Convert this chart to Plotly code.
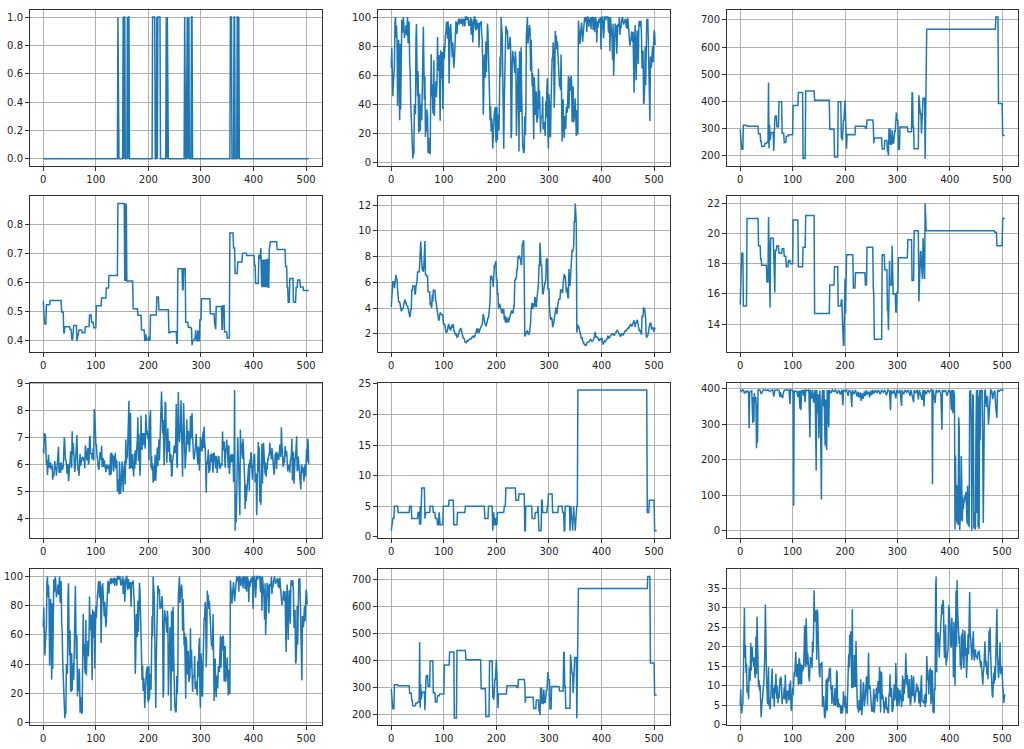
import plotly.graph_objects as go
from plotly.subplots import make_subplots

N = 506

# CHAS : indices où la valeur vaut 1
CHAS_ONES = [142, 152, 154, 155, 160, 162, 163, 208, 209, 210, 211, 212, 216, 218,
             219, 220, 221, 222, 234, 236, 269, 273, 274, 276, 277, 282, 283, 356,
             357, 358, 363, 364, 369, 370, 372]

AGE = [65.2, 78.9, 61.1, 45.8, 54.2, 58.7, 66.6, 96.1, 100.0, 85.9, 94.3, 82.9, 39.0, 61.8,
       84.5, 56.5, 29.3, 81.7, 36.6, 69.5, 98.1, 89.2, 91.7, 100.0, 94.1, 85.7, 90.3, 88.8,
       94.4, 87.3, 94.1, 100.0, 82.0, 95.0, 96.9, 68.2, 61.4, 41.5, 30.2, 21.8, 15.8, 2.9,
       6.6, 6.5, 40.0, 33.8, 33.3, 85.5, 95.3, 62.0, 45.7, 63.0, 21.1, 21.4, 47.6, 21.9,
       35.7, 40.5, 29.2, 47.2, 66.2, 93.4, 67.8, 43.4, 59.5, 17.8, 31.1, 21.4, 36.8, 33.0,
       6.6, 17.5, 7.8, 6.2, 6.0, 45.0, 74.5, 45.8, 53.7, 36.6, 33.5, 70.4, 32.2, 46.7, 48.0,
       56.1, 45.1, 56.8, 86.3, 63.1, 66.1, 73.9, 53.6, 28.9, 77.3, 57.8, 69.6, 76.0, 36.9,
       62.5, 79.9, 71.3, 85.4, 87.4, 90.0, 96.7, 91.9, 85.2, 97.1, 91.2, 54.4, 81.6, 92.9,
       95.4, 84.2, 88.2, 72.5, 82.6, 73.1, 65.2, 69.7, 84.1, 92.9, 97.0, 95.8, 88.4, 95.6,
       96.0, 98.8, 94.7, 98.9, 97.7, 97.9, 95.4, 98.4, 98.2, 93.5, 98.4, 98.2, 97.9, 93.6,
       100.0, 100.0, 100.0, 97.8, 100.0, 100.0, 95.7, 93.8, 94.9, 97.3, 100.0, 88.0, 98.5,
       96.0, 82.6, 94.0, 97.4, 100.0, 100.0, 92.6, 90.8, 98.2, 93.9, 91.8, 93.0, 96.2, 79.2,
       96.1, 95.2, 94.6, 97.3, 88.5, 84.1, 68.7, 33.1, 47.2, 73.4, 74.4, 58.4, 83.3, 62.2,
       92.2, 95.6, 89.8, 68.8, 53.6, 41.1, 29.1, 38.9, 21.5, 30.8, 26.3, 9.9, 18.8, 32.0,
       34.1, 36.6, 38.3, 15.3, 13.9, 38.4, 15.7, 33.2, 31.9, 22.3, 52.5, 72.7, 59.1, 100.0,
       92.1, 88.6, 53.8, 32.3, 9.8, 42.4, 56.0, 85.1, 93.8, 92.4, 88.5, 91.3, 77.7, 80.8,
       78.3, 83.0, 86.5, 79.9, 17.0, 21.4, 68.1, 76.9, 73.3, 70.4, 66.5, 61.5, 76.5, 71.6,
       18.5, 42.2, 54.3, 65.1, 52.9, 7.8, 76.5, 70.2, 34.9, 79.2, 49.1, 17.5, 13.0, 8.9, 6.8,
       8.4, 32.0, 19.1, 34.2, 86.9, 100.0, 100.0, 81.8, 89.4, 91.5, 94.5, 91.6, 62.8, 84.6,
       67.0, 52.6, 61.5, 42.1, 16.3, 58.7, 51.8, 32.9, 42.8, 49.0, 27.6, 32.1, 32.2, 64.5,
       37.2, 49.7, 24.8, 20.8, 31.9, 31.5, 31.3, 45.6, 22.9, 27.9, 27.7, 23.4, 18.4, 42.3,
       31.1, 51.0, 58.0, 20.1, 10.0, 47.4, 40.4, 18.4, 17.7, 41.1, 58.1, 71.9, 70.3, 82.5,
       76.7, 37.8, 52.8, 90.4, 82.8, 87.3, 77.7, 83.2, 71.7, 67.2, 58.8, 52.3, 54.3, 49.9,
       74.3, 40.1, 14.7, 28.9, 43.7, 25.8, 17.2, 32.2, 28.4, 23.3, 38.1, 38.5, 34.5, 46.3,
       59.6, 37.3, 45.4, 58.5, 49.3, 59.7, 56.4, 28.1, 48.5, 52.3, 27.7, 29.7, 34.5, 44.4,
       35.9, 18.5, 36.1, 21.9, 19.5, 97.4, 91.0, 83.4, 81.3, 88.0, 91.1, 96.2, 89.0, 82.9,
       87.9, 91.4, 100.0, 100.0, 96.8, 97.5, 100.0, 89.6, 100.0, 100.0, 97.9, 93.3, 98.8,
       96.2, 100.0, 91.9, 99.1, 100.0, 100.0, 91.2, 98.1, 100.0, 89.5, 100.0, 98.9, 97.0,
       82.5, 97.0, 92.6, 94.7, 98.8, 96.0, 98.9, 100.0, 77.8, 100.0, 100.0, 100.0, 96.0,
       85.4, 100.0, 100.0, 100.0, 97.9, 100.0, 100.0, 100.0, 100.0, 90.8, 89.1, 100.0, 76.5,
       100.0, 95.3, 87.6, 85.1, 70.6, 95.4, 59.7, 78.7, 78.1, 95.6, 86.1, 94.3, 74.8, 87.9,
       95.0, 94.6, 93.3, 100.0, 87.9, 93.9, 92.4, 97.2, 100.0, 100.0, 96.6, 94.8, 96.4, 96.6,
       98.7, 98.3, 92.6, 98.2, 91.8, 99.3, 94.1, 86.5, 87.9, 80.3, 83.7, 84.4, 90.0, 88.4,
       83.0, 89.9, 65.4, 48.2, 84.7, 94.5, 71.0, 56.7, 84.0, 90.7, 75.0, 67.6, 95.4, 97.4,
       93.6, 97.3, 96.7, 88.0, 64.7, 74.9, 77.0, 40.3, 41.9, 51.9, 79.8, 53.2, 92.7, 98.3,
       98.0, 98.8, 83.5, 54.0, 42.6, 28.8, 72.9, 70.6, 65.3, 73.5, 79.7, 69.1, 76.7, 91.0,
       89.3, 80.8]

# TAX / NOX / PTRATIO / RAD : paliers (indice de début, valeur)
TAX_START = [0, 1, 3, 6, 13, 35, 39, 41, 47, 51, 54, 55, 56, 57, 58, 64, 65, 67, 70, 74,
             80, 84, 88, 92, 101, 111, 120, 125, 142, 171, 180, 187, 193, 195, 196, 199,
             201, 202, 204, 216, 220, 239, 242, 254, 255, 256, 271, 276, 281, 283, 284,
             285, 286, 287, 290, 291, 294, 297, 299, 302, 305, 320, 328, 330, 332, 341,
             342, 344, 346, 347, 349, 353, 354, 355, 488, 493, 501]
TAX_VAL = [296, 242, 222, 311, 307, 279, 252, 233, 243, 247, 469, 226, 313, 256, 284, 216,
           337, 345, 305, 398, 281, 247, 270, 276, 384, 432, 188, 437, 403, 296, 193, 398,
           265, 255, 329, 402, 348, 224, 277, 276, 307, 300, 330, 315, 244, 264, 223, 254,
           216, 198, 300, 241, 300, 241, 293, 245, 289, 358, 329, 222, 304, 287, 430, 304,
           224, 422, 370, 352, 280, 335, 411, 187, 334, 666, 711, 391, 273]

NOX_START = [0, 1, 3, 6, 13, 35, 39, 41, 51, 54, 55, 56, 57, 64, 65, 67, 74, 80, 84, 88,
             92, 96, 101, 111, 120, 125, 142, 155, 156, 157, 158, 159, 171, 180, 187, 193,
             195, 196, 199, 201, 202, 204, 216, 220, 239, 242, 254, 256, 265, 267, 271,
             276, 281, 283, 284, 285, 287, 290, 291, 294, 296, 298, 301, 318, 326, 327,
             329, 340, 342, 345, 350, 355, 362, 365, 370, 379, 387, 402, 404, 410, 412,
             413, 415, 416, 417, 418, 420, 421, 423, 424, 426, 428, 430, 431, 445, 461,
             464, 466, 469, 476, 481, 484, 489, 495]
NOX_VAL = [0.538, 0.469, 0.458, 0.524, 0.538, 0.499, 0.428, 0.448, 0.439, 0.410, 0.403,
           0.411, 0.453, 0.400, 0.413, 0.437, 0.428, 0.448, 0.449, 0.489, 0.464, 0.445,
           0.520, 0.547, 0.581, 0.624, 0.871, 0.605, 0.871, 0.605, 0.871, 0.605, 0.510,
           0.488, 0.437, 0.401, 0.422, 0.404, 0.403, 0.415, 0.400, 0.489, 0.550, 0.507,
           0.428, 0.431, 0.392, 0.647, 0.575, 0.647, 0.464, 0.447, 0.443, 0.385, 0.401,
           0.400, 0.410, 0.437, 0.400, 0.433, 0.400, 0.472, 0.544, 0.493, 0.460, 0.440,
           0.518, 0.440, 0.520, 0.430, 0.410, 0.770, 0.718, 0.631, 0.670, 0.700, 0.693,
           0.659, 0.597, 0.693, 0.679, 0.718, 0.614, 0.584, 0.679, 0.584, 0.679, 0.584,
           0.679, 0.584, 0.679, 0.584, 0.713, 0.740, 0.713, 0.655, 0.584, 0.532, 0.614,
           0.532, 0.583, 0.609, 0.585, 0.573]

PTRATIO_START = [0, 1, 3, 6, 13, 35, 39, 41, 51, 54, 55, 56, 57, 58, 64, 65, 67, 70, 74,
                 80, 84, 88, 92, 96, 101, 111, 120, 125, 142, 171, 180, 187, 193, 195, 196,
                 199, 201, 202, 216, 220, 239, 242, 254, 255, 256, 271, 276, 281, 283, 284,
                 285, 286, 290, 291, 297, 299, 302, 320, 328, 332, 341, 342, 344, 346, 347,
                 349, 350, 351, 353, 354, 486, 490, 501]
PTRATIO_VAL = [15.3, 17.8, 18.7, 15.2, 21.0, 19.2, 18.3, 17.9, 16.8, 21.1, 17.9, 17.3, 15.1,
               19.7, 18.6, 16.1, 18.9, 19.2, 18.7, 19.0, 18.5, 17.8, 18.2, 18.0, 20.9, 17.8,
               19.1, 21.2, 14.7, 16.6, 17.8, 15.2, 15.6, 14.4, 12.6, 17.0, 14.7, 18.6, 16.4,
               17.4, 16.6, 19.1, 16.4, 15.9, 13.0, 18.6, 17.6, 14.9, 13.6, 15.3, 18.2, 16.6,
               19.2, 16.0, 14.8, 16.1, 18.4, 19.6, 16.9, 20.2, 15.5, 17.6, 18.8, 17.9, 17.0,
               19.7, 18.3, 17.0, 22.0, 20.2, 20.1, 19.2, 21.0]

RAD_START = [0, 1, 3, 6, 13, 35, 39, 51, 54, 55, 56, 57, 64, 65, 74, 80, 84, 88, 91, 92,
             99, 110, 119, 126, 141, 178, 185, 193, 194, 196, 198, 200, 202, 204, 215, 218,
             237, 243, 254, 256, 268, 274, 279, 280, 286, 288, 297, 299, 307, 318, 326,
             329, 331, 340, 341, 343, 345, 346, 348, 350, 351, 353, 355, 487, 491, 501]
RAD_VAL = [1, 2, 3, 5, 4, 5, 3, 4, 2, 5, 2, 8, 3, 4, 5, 4, 3, 2, 4, 2, 5, 6, 2, 4, 5, 3, 5,
           1, 4, 2, 3, 2, 4, 4, 5, 8, 6, 7, 1, 5, 3, 4, 5, 1, 6, 4, 5, 7, 4, 5, 4, 1, 5, 1,
           5, 3, 1, 5, 3, 1, 4, 5, 24, 4, 6, 1]

DIS = [4.09, 4.9671, 4.9671, 6.0622, 6.0622, 6.0622, 5.5605, 5.9505, 6.0821, 6.5921,
       6.3467, 6.2267, 5.4509, 4.7075, 4.4619, 4.4986, 4.4986, 4.2579, 3.7965, 3.7965,
       3.7979, 4.0123, 3.9769, 4.0952, 4.3996, 4.4546, 4.682, 4.4534, 4.4547, 4.239,
       4.233, 4.175, 3.99, 3.7872, 3.7598, 3.3603, 3.3779, 3.9342, 3.8473, 5.4011,
       5.4011, 5.7209, 5.7209, 5.7209, 5.7209, 5.1004, 5.1004, 5.6894, 5.87, 6.0877,
       6.8147, 6.8147, 6.8147, 6.8147, 7.3197, 8.6966, 9.1876, 8.3248, 7.8148, 6.932,
       7.2254, 6.8185, 7.2255, 7.9809, 9.2229, 6.6115, 6.6115, 6.498, 6.498, 6.498,
       5.2873, 5.2873, 5.2873, 5.2873, 4.2515, 4.5026, 4.0522, 4.0905, 5.0141, 4.5026,
       5.4007, 5.4007, 5.4007, 5.4007, 4.7794, 4.4377, 4.4272, 3.7476, 3.4217, 3.4145,
       3.0923, 3.0921, 3.6659, 3.6659, 3.615, 3.4952, 3.4952, 3.4952, 3.4952, 2.7778,
       2.8561, 2.7147, 2.7147, 2.421, 2.1069, 2.211, 2.1224, 2.4329, 2.5451, 2.7778,
       2.6775, 2.3534, 2.548, 2.2565, 2.4631, 2.7301, 2.7474, 2.4775, 2.7592, 2.2577,
       2.1974, 2.0869, 1.9444, 2.0063, 1.9929, 1.7572, 1.7883, 1.8125, 1.9799, 2.1185,
       2.271, 2.3274, 2.4699, 2.346, 2.1107, 1.9669, 1.8498, 1.6686, 1.6687, 1.6119,
       1.4394, 1.3216, 1.4118, 1.3459, 1.4191, 1.5166, 1.4608, 1.5296, 1.5257, 1.618,
       1.5916, 1.6102, 1.6232, 1.7494, 1.7455, 1.7364, 1.8773, 1.7573, 1.7659, 1.7984,
       1.9709, 2.0407, 2.162, 2.422, 2.2834, 2.0459, 2.4259, 2.1, 2.2625, 2.4259,
       2.388, 2.5961, 2.6463, 2.7019, 3.1323, 3.5549, 3.3175, 2.9153, 2.829, 2.741,
       2.5979, 2.7006, 2.847, 2.9879, 3.2797, 3.1992, 3.7886, 4.5667, 4.5667, 6.4798,
       6.4798, 6.4798, 6.2196, 6.2196, 5.6484, 7.309, 7.309, 7.309, 7.6534, 7.6534,
       6.27, 6.27, 5.118, 5.118, 3.9454, 4.3549, 4.3549, 4.2392, 3.875, 3.8771,
       3.665, 3.6526, 3.9454, 3.5875, 3.9454, 3.1121, 3.4211, 2.8893, 3.3633, 2.8617,
       3.048, 3.2721, 3.2721, 2.8944, 3.2157, 3.2157, 3.3751, 3.6715, 3.6715, 3.8384,
       3.6519, 3.6519, 3.6519, 4.148, 4.148, 6.1899, 6.1899, 6.3361, 6.3361, 7.0355,
       7.0355, 7.9549, 7.9549, 8.0555, 8.0555, 7.8265, 7.8265, 7.3967, 7.3967, 8.9067,
       8.9067, 9.2229, 9.2229, 6.3361, 1.801, 1.8946, 2.0107, 2.1121, 2.1398, 2.2885,
       2.0788, 1.9301, 1.9865, 2.1329, 2.4216, 2.872, 3.9175, 4.429, 4.429, 3.9175,
       4.3665, 4.0776, 4.2673, 4.7872, 4.8628, 4.1403, 4.1007, 4.6947, 5.2447, 5.2119,
       5.885, 7.3073, 7.3073, 9.0892, 7.3172, 7.3172, 7.3172, 5.1167, 5.1167, 5.1167,
       5.5027, 5.5027, 5.9604, 5.9604, 6.32, 7.8278, 7.8278, 7.8278, 5.4917, 5.4917,
       5.4917, 4.022, 3.37, 3.0992, 3.1827, 3.3175, 3.1025, 2.5194, 2.6403, 2.834,
       3.2628, 3.6023, 3.945, 3.9986, 4.0317, 3.5325, 4.0019, 4.5404, 4.5404, 4.7211,
       4.7211, 4.7211, 5.4159, 5.4159, 5.4159, 5.2146, 5.2146, 5.8736, 6.6407, 6.6407,
       6.4584, 6.4584, 5.9853, 5.2311, 5.615, 4.8122, 4.8122, 4.8122, 7.0379, 6.2669,
       5.7321, 6.4654, 8.0136, 8.0136, 8.5353, 8.344, 8.7921, 8.7921, 10.7103, 10.7103,
       12.1265, 10.5857, 10.5857, 2.1222, 2.5052, 2.7227, 2.5091, 2.5182, 2.2955, 2.1036,
       1.9047, 1.9047, 1.6132, 1.7523, 1.5106, 1.3325, 1.3567, 1.2024, 1.1691, 1.1296,
       1.1742, 1.137, 1.3163, 1.3449, 1.358, 1.3861, 1.3861, 1.4165, 1.5192, 1.5804,
       1.5331, 1.4395, 1.4261, 1.4672, 1.5184, 1.5895, 1.7281, 1.9265, 2.1678, 1.77,
       1.7912, 1.7821, 1.7257, 1.6768, 1.6334, 1.4896, 1.5004, 1.5888, 1.5741, 1.639,
       1.7028, 1.6074, 1.4254, 1.1781, 1.2852, 1.4547, 1.4655, 1.413, 1.5275, 1.5539,
       1.5894, 1.6582, 1.8347, 1.8195, 1.6475, 1.8026, 1.794, 1.8589, 1.8746, 1.9512,
       2.0218, 2.0635, 1.9096, 1.9976, 1.8629, 1.9356, 1.9682, 2.0527, 2.0882, 2.2004,
       2.3158, 2.2222, 2.1247, 2.0026, 1.9142, 1.8206, 1.8172, 1.8662, 2.0651, 2.0048,
       1.9784, 1.8956, 1.9879, 2.072, 2.198, 2.2616, 2.185, 2.3236, 2.3552, 2.3682,
       2.4527, 2.4961, 2.4358, 2.5806, 2.7792, 2.7831, 2.7175, 2.5975, 2.5671, 2.7344,
       2.8016, 2.9634, 3.0665, 2.8715, 2.5403, 2.9084, 2.8237, 3.0334, 3.0993, 2.8965,
       2.5329, 2.4298, 2.206, 2.3053, 2.1007, 2.1705, 1.9512, 3.4242, 3.3317, 3.4106,
       4.0983, 3.724, 3.9917, 3.5459, 3.1523, 1.8209, 1.7554, 1.8226, 1.8681, 2.1099,
       2.3817, 2.3817, 2.7986, 2.7986, 2.8927, 2.4091, 2.3999, 2.4982, 2.4786, 2.2875,
       2.1675, 2.3889, 2.505]

RM = [6.575, 6.421, 7.185, 6.998, 7.147, 6.43, 6.012, 6.172, 5.631, 6.004,
      6.377, 6.009, 5.889, 5.949, 6.096, 5.834, 5.935, 5.99, 5.456, 5.727,
      5.57, 5.965, 6.142, 5.813, 5.924, 5.599, 5.813, 6.047, 6.495, 6.674,
      5.713, 6.072, 5.95, 5.701, 6.096, 5.933, 5.841, 5.85, 5.966, 6.595,
      7.024, 6.77, 6.169, 6.211, 6.069, 5.682, 5.786, 6.03, 5.399, 5.602,
      5.963, 6.115, 6.511, 5.998, 5.888, 7.249, 6.383, 6.816, 6.145, 5.927,
      5.741, 5.966, 6.456, 6.762, 7.104, 6.29, 5.787, 5.878, 5.594, 5.885,
      6.417, 5.961, 6.065, 6.245, 6.273, 6.286, 6.279, 6.14, 6.232, 5.874,
      6.727, 6.619, 6.302, 6.167, 6.389, 6.63, 6.015, 6.121, 7.007, 7.079,
      6.417, 6.405, 6.442, 6.211, 6.249, 6.625, 6.163, 8.069, 7.82, 7.416,
      6.727, 6.781, 6.405, 6.137, 6.167, 5.851, 5.836, 6.127, 6.474, 6.229,
      6.195, 6.715, 5.913, 6.092, 6.254, 5.928, 6.176, 6.021, 5.872, 5.731,
      5.87, 6.004, 5.961, 5.856, 5.879, 5.986, 5.613, 5.693, 6.431, 5.637,
      6.458, 6.326, 6.372, 5.822, 5.757, 6.335, 5.942, 6.454, 5.857, 6.151,
      6.174, 5.019, 5.403, 5.468, 4.903, 6.13, 5.628, 4.926, 5.186, 5.597,
      6.122, 5.404, 5.012, 5.709, 6.129, 6.152, 5.272, 6.943, 6.066, 6.51,
      6.25, 7.489, 7.802, 8.375, 5.854, 6.101, 7.929, 5.877, 6.319, 6.402,
      5.875, 5.88, 5.572, 6.416, 5.859, 6.546, 6.02, 6.315, 6.86, 6.98,
      7.765, 6.144, 7.155, 6.563, 5.604, 6.153, 7.831, 6.782, 6.556, 7.185,
      6.951, 6.739, 7.178, 6.8, 6.604, 7.875, 7.287, 7.107, 7.274, 6.975,
      7.135, 6.162, 7.61, 7.853, 8.034, 5.891, 6.326, 5.783, 6.064, 5.344,
      5.96, 5.404, 5.807, 6.375, 5.412, 6.182, 5.888, 6.642, 5.951, 6.373,
      6.951, 6.164, 6.879, 6.618, 8.266, 8.725, 8.04, 7.163, 7.686, 6.552,
      5.981, 7.412, 8.337, 8.247, 6.726, 6.086, 6.631, 7.358, 6.481, 6.606,
      6.897, 6.095, 6.358, 6.393, 5.593, 5.605, 6.108, 6.226, 6.433, 6.718,
      6.487, 6.438, 6.957, 8.259, 6.108, 5.876, 7.454, 8.704, 7.333, 6.842,
      7.203, 7.52, 8.398, 7.327, 7.206, 5.56, 7.014, 8.297, 7.47, 5.92,
      5.856, 6.24, 6.538, 7.691, 6.758, 6.854, 7.267, 6.826, 6.482, 6.812,
      7.82, 6.968, 7.645, 7.923, 7.088, 6.453, 6.23, 6.209, 6.315, 6.565,
      6.861, 7.148, 6.63, 6.127, 6.009, 6.678, 6.549, 5.79, 6.345, 7.041,
      6.871, 6.59, 6.495, 6.982, 7.236, 6.616, 7.42, 6.849, 6.635, 5.972,
      4.973, 6.122, 6.023, 6.266, 6.567, 5.705, 5.914, 5.782, 6.382, 6.113,
      6.426, 6.376, 6.041, 5.708, 6.415, 6.431, 6.312, 6.083, 5.868, 6.333,
      6.144, 5.706, 6.031, 6.316, 6.31, 6.037, 5.869, 5.895, 6.059, 5.985,
      5.968, 7.241, 6.54, 6.696, 6.874, 6.014, 5.898, 6.516, 6.635, 6.939,
      6.49, 6.579, 5.884, 6.728, 5.663, 5.936, 6.212, 6.395, 6.127, 6.112,
      6.398, 6.251, 5.362, 5.803, 8.78, 3.561, 4.963, 3.863, 4.97, 6.683,
      7.016, 6.216, 5.875, 4.906, 4.138, 7.313, 6.649, 6.794, 6.38, 6.223,
      6.968, 6.545, 5.536, 5.52, 4.368, 5.277, 4.652, 5.0, 4.88, 5.39,
      5.713, 6.051, 5.036, 6.193, 5.887, 6.471, 6.405, 5.747, 5.453, 5.852,
      5.987, 6.343, 6.404, 5.349, 5.531, 5.683, 4.138, 5.608, 5.617, 6.852,
      5.757, 6.657, 4.628, 5.155, 4.519, 6.434, 6.782, 5.304, 5.957, 6.824,
      6.411, 6.006, 5.648, 6.103, 5.565, 5.896, 5.837, 6.202, 6.193, 6.38,
      6.348, 6.833, 6.425, 6.436, 6.208, 6.629, 6.461, 6.152, 5.935, 5.627,
      5.818, 6.406, 6.219, 6.485, 5.854, 6.459, 6.341, 6.251, 6.185, 6.417,
      6.749, 6.655, 6.297, 7.393, 6.728, 6.525, 5.976, 5.936, 6.301, 6.081,
      6.701, 6.376, 6.317, 6.513, 6.209, 5.759, 5.952, 6.003, 5.926, 5.713,
      6.167, 6.229, 6.437, 6.98, 5.427, 6.162, 6.484, 5.304, 6.185, 6.229,
      6.242, 6.75, 7.061, 5.762, 5.871, 6.312, 6.114, 5.905, 5.454, 5.414,
      5.093, 5.983, 5.983, 5.707, 5.926, 5.67, 5.39, 5.794, 6.019, 5.569,
      6.027, 6.593, 6.12, 6.976, 6.794, 6.03]

# B : points relevés (indice, valeur)
B_X = [0, 2, 4, 6, 8, 10, 12, 14, 16, 17, 18, 20, 22, 24, 25, 26, 27, 29, 30, 31, 32, 33,
       34, 36, 38, 40, 42, 44, 47, 50, 53, 56, 59, 62, 64, 66, 68, 71, 74, 75, 76, 77, 78,
       80, 81, 82, 84, 87, 90, 93, 95, 96, 99, 100, 101, 102, 103, 105, 108, 110, 112,
       114, 115, 116, 117, 119, 121, 122, 124, 125, 128, 131, 133, 134, 136, 138, 140,
       141, 143, 145, 146, 148, 149, 150, 151, 152, 153, 155, 156, 157, 159, 160, 162,
       163, 165, 166, 167, 168, 169, 170, 173, 176, 179, 182, 185, 188, 191, 194, 196,
       197, 200, 203, 206, 208, 211, 213, 214, 217, 220, 223, 225, 227, 229, 231, 233,
       235, 237, 239, 241, 243, 245, 247, 249, 251, 253, 255, 258, 261, 264, 267, 270,
       273, 276, 279, 282, 285, 287, 288, 291, 294, 297, 299, 302, 305, 308, 309, 312,
       315, 318, 321, 324, 326, 329, 331, 332, 335, 338, 340, 342, 345, 347, 349, 351,
       352, 355, 358, 361, 364, 366, 367, 368, 370, 372, 374, 377, 380, 383, 385, 386,
       389, 392, 395, 398, 401, 403, 404, 406, 407, 409, 410, 411, 412, 413, 414, 415,
       416, 417, 418, 419, 420, 421, 422, 423, 424, 425, 426, 427, 428, 429, 430, 431,
       432, 433, 434, 435, 436, 437, 438, 439, 440, 441, 442, 443, 444, 445, 446, 447,
       448, 449, 450, 451, 452, 453, 454, 455, 456, 457, 458, 459, 460, 462, 464, 466,
       467, 468, 470, 472, 474, 476, 478, 480, 482, 484, 486, 488, 490, 491, 492, 494,
       497, 500, 503, 505]
B_Y = [396.9, 392.8, 396.9, 395.6, 386.6, 392.5, 390.5, 395.6, 386.8, 289.0, 390.9, 392.5,
       394.5, 303.4, 376.9, 306.4, 387.9, 360.2, 376.7, 232.6, 358.8, 248.3, 396.9, 396.9,
       395.6, 385.4, 394.5, 396.9, 396.9, 395.6, 396.9, 392.9, 395.6, 396.9, 378.1, 395.6,
       396.9, 396.9, 396.9, 383.7, 376.9, 390.9, 377.2, 383.2, 373.7, 387.0, 396.0, 396.9,
       396.9, 396.9, 357.0, 396.9, 396.9, 395.2, 390.9, 70.8, 394.0, 392.8, 393.7, 377.7,
       394.7, 344.0, 395.2, 340.0, 393.5, 396.9, 380.0, 396.9, 362.0, 396.9, 395.0, 396.9,
       262.8, 396.9, 372.0, 396.9, 360.0, 380.0, 396.9, 170.0, 396.9, 330.0, 385.0, 261.0,
       372.0, 395.0, 350.0, 88.0, 364.0, 396.9, 350.0, 396.9, 240.0, 370.0, 228.0, 396.9,
       300.0, 396.9, 292.0, 396.9, 388.0, 396.9, 392.0, 396.9, 386.0, 396.9, 384.0, 396.9,
       354.0, 396.9, 393.0, 396.9, 380.0, 396.9, 390.0, 349.0, 396.9, 385.0, 396.9, 378.0,
       392.0, 375.0, 390.0, 366.0, 388.0, 372.0, 393.0, 380.0, 396.0, 384.0, 392.0, 376.0,
       395.0, 382.0, 396.9, 386.0, 396.9, 388.0, 396.9, 385.0, 396.9, 390.0, 396.9, 382.0,
       396.9, 393.0, 340.0, 396.9, 386.0, 396.9, 373.0, 396.9, 388.0, 396.9, 352.0, 396.9,
       385.0, 396.9, 390.0, 396.9, 380.0, 396.9, 375.0, 362.0, 396.9, 388.0, 396.9, 370.0,
       396.9, 380.0, 368.0, 396.9, 350.0, 396.9, 385.0, 396.9, 390.0, 396.9, 396.9, 131.0,
       396.9, 380.0, 360.0, 396.9, 390.0, 396.9, 386.0, 285.0, 396.9, 392.0, 396.9, 380.0,
       396.9, 392.0, 340.0, 396.9, 331.0, 396.9, 380.0, 3.5, 212.0, 27.0, 130.0, 21.0,
       127.0, 16.0, 320.0, 290.0, 2.6, 35.0, 29.0, 211.0, 88.0, 27.0, 97.0, 61.0, 83.0,
       81.0, 98.0, 100.0, 110.0, 27.0, 21.0, 127.0, 16.0, 110.0, 10.0, 394.7, 341.6, 396.9,
       304.0, 0.3, 355.0, 385.0, 375.0, 6.7, 51.0, 10.5, 3.5, 272.0, 396.9, 50.0, 396.9,
       10.0, 380.0, 5.0, 396.9, 255.0, 396.9, 393.0, 396.9, 22.0, 331.0, 396.9, 396.0,
       349.0, 380.0, 300.0, 350.0, 396.9, 395.0, 371.0, 389.0, 395.0, 344.0, 318.0, 390.0,
       396.9, 393.0, 396.9, 396.9, 396.9]

LSTAT = [4.98, 9.14, 4.03, 2.94, 5.33, 5.21, 12.43, 19.15, 29.93, 17.1,
         20.45, 13.27, 15.71, 8.26, 10.26, 8.47, 6.58, 14.67, 11.69, 11.28,
         21.02, 13.83, 18.72, 19.88, 16.3, 16.51, 14.81, 17.28, 12.8, 11.98,
         22.6, 13.04, 27.71, 18.35, 20.34, 9.68, 11.41, 8.77, 10.13, 4.32,
         1.98, 4.84, 5.81, 7.44, 9.55, 10.21, 14.15, 18.8, 30.81, 16.2,
         13.45, 9.43, 5.28, 8.43, 14.8, 4.81, 5.77, 3.95, 6.86, 9.22,
         13.15, 14.44, 6.73, 9.5, 8.05, 4.67, 10.24, 8.1, 13.09, 8.79,
         6.72, 9.88, 5.52, 7.54, 6.78, 8.94, 11.97, 10.27, 12.34, 9.1,
         5.29, 7.22, 6.72, 7.51, 9.62, 6.53, 12.86, 8.44, 5.5, 5.7,
         8.81, 8.2, 8.16, 6.21, 10.59, 6.65, 11.34, 4.21, 3.57, 6.19,
         9.42, 7.67, 10.63, 13.44, 12.33, 16.47, 18.66, 14.09, 12.27, 15.55,
         13.0, 10.16, 16.21, 17.09, 10.45, 15.76, 12.04, 10.3, 15.37, 13.61,
         14.37, 14.27, 17.93, 25.41, 17.58, 14.81, 27.26, 17.19, 15.39, 18.34,
         12.6, 12.26, 11.12, 15.03, 17.31, 16.96, 16.9, 14.59, 21.32, 18.46,
         24.16, 34.41, 26.82, 26.42, 29.29, 27.8, 16.65, 29.53, 28.32, 21.45,
         14.1, 13.28, 12.12, 15.79, 15.12, 15.02, 16.14, 4.59, 6.43, 7.39,
         5.5, 1.73, 1.92, 3.32, 11.64, 9.81, 3.7, 12.14, 11.1, 11.32,
         14.43, 12.03, 14.69, 9.04, 9.64, 5.33, 10.11, 6.29, 6.92, 5.04,
         7.56, 9.45, 4.82, 5.68, 13.98, 13.15, 4.45, 6.68, 4.56, 5.39,
         5.1, 4.69, 2.87, 5.03, 4.38, 2.97, 4.08, 8.61, 6.62, 4.56,
         4.45, 7.43, 3.11, 3.81, 2.88, 10.87, 10.97, 18.06, 14.66, 23.09,
         17.27, 23.98, 16.03, 9.38, 29.55, 9.47, 13.51, 9.69, 17.92, 10.5,
         9.71, 21.46, 9.93, 7.6, 4.14, 4.63, 3.13, 6.36, 3.92, 3.76,
         11.65, 5.25, 2.47, 3.95, 8.05, 10.88, 9.54, 4.73, 6.36, 7.37,
         11.38, 12.4, 11.22, 5.19, 12.5, 18.46, 9.16, 10.15, 9.52, 6.56,
         5.9, 3.59, 3.53, 3.54, 6.57, 9.25, 3.11, 5.12, 7.79, 6.9,
         9.59, 7.26, 5.91, 11.25, 8.1, 10.45, 14.79, 7.44, 3.16, 13.65,
         13.0, 6.59, 7.73, 6.58, 3.53, 2.98, 6.05, 4.16, 7.19, 4.85,
         3.76, 4.59, 3.01, 3.16, 7.85, 8.23, 12.93, 7.14, 7.6, 9.51,
         3.33, 3.56, 4.7, 8.58, 10.4, 6.27, 7.39, 15.84, 4.97, 4.74,
         6.07, 9.5, 8.67, 4.86, 6.93, 8.93, 6.47, 7.53, 4.54, 9.97,
         12.64, 5.98, 11.72, 7.9, 9.28, 11.5, 18.33, 15.94, 10.36, 12.73,
         7.2, 6.87, 7.7, 11.74, 6.12, 5.08, 6.15, 12.79, 9.97, 7.34,
         9.09, 12.43, 7.83, 5.68, 6.75, 8.01, 9.8, 10.56, 8.51, 9.74,
         9.29, 5.49, 8.65, 7.18, 4.61, 10.53, 12.67, 6.36, 5.99, 5.89,
         5.98, 5.49, 7.79, 4.5, 8.05, 5.57, 17.6, 13.27, 11.48, 12.67,
         7.79, 14.19, 10.19, 14.64, 5.29, 7.12, 14.0, 13.33, 3.26, 3.73,
         2.96, 9.53, 8.88, 34.77, 37.97, 13.44, 23.24, 21.24, 23.69, 21.78,
         17.21, 21.08, 23.6, 24.56, 30.63, 30.81, 28.28, 31.99, 30.62, 20.85,
         17.11, 18.76, 25.68, 15.17, 16.35, 17.12, 19.37, 19.92, 30.59, 29.97,
         26.77, 20.32, 20.31, 19.77, 27.38, 22.98, 23.34, 12.13, 26.4, 19.78,
         10.11, 21.22, 34.37, 20.08, 36.98, 29.05, 25.79, 26.64, 20.62, 22.74,
         15.02, 15.7, 14.1, 23.29, 17.16, 24.39, 15.69, 14.52, 21.52, 24.08,
         17.64, 19.69, 12.03, 16.22, 15.17, 23.27, 18.05, 26.45, 34.02, 22.88,
         22.11, 19.52, 16.59, 18.85, 23.79, 23.98, 17.79, 16.44, 18.13, 19.31,
         17.44, 17.73, 17.27, 16.74, 18.71, 18.13, 19.01, 16.94, 16.23, 14.7,
         16.42, 14.65, 13.99, 10.29, 13.22, 14.13, 17.15, 21.32, 18.13, 14.76,
         16.29, 12.87, 14.36, 11.66, 18.14, 24.1, 18.68, 24.91, 18.03, 13.11,
         10.74, 7.74, 7.01, 10.42, 13.34, 10.58, 14.98, 11.45, 18.06, 23.97,
         29.68, 18.07, 13.35, 12.01, 13.59, 17.6, 21.14, 14.1, 12.92, 15.1,
         14.33, 9.67, 9.08, 5.64, 6.48, 7.88]

BLUE = "#1f77b4"
FONT = "DejaVu Sans"


def paliers(starts, values, n=N):
    """Décode les paliers en une valeur par indice."""
    out = []
    for i, (s, v) in enumerate(zip(starts, values)):
        end = starts[i + 1] if i + 1 < len(starts) else n
        out.extend([v] * (end - s))
    return out


CHAS = [1 if i in CHAS_ONES else 0 for i in range(N)]
TAX = paliers(TAX_START, TAX_VAL)
NOX = paliers(NOX_START, NOX_VAL)
PTRATIO = paliers(PTRATIO_START, PTRATIO_VAL)
RAD = paliers(RAD_START, RAD_VAL)

# (x, y, dtick, format) par case, ligne par ligne
PANELS = [
    (None, CHAS, 0.2, ".1f"), (None, AGE, 20, "d"), (None, TAX, 100, "d"),
    (None, NOX, 0.1, ".1f"), (None, DIS, 2, "d"), (None, PTRATIO, 2, "d"),
    (None, RM, 1, "d"), (None, RAD, 5, "d"), (B_X, B_Y, 100, "d"),
    (None, AGE, 20, "d"), (None, TAX, 100, "d"), (None, LSTAT, 5, "d"),
]

COLS_PX = [(30, 322), (378, 670), (727, 1018)]
ROWS_PX = [(5, 163), (194, 352), (383, 540), (572, 730)]
W, H = 1024, 749

fig = make_subplots(rows=4, cols=3)

for k, (xs, ys, dt, fmt) in enumerate(PANELS):
    r, c = k // 3 + 1, k % 3 + 1
    if xs is None:
        xs = list(range(len(ys)))
    fig.add_trace(go.Scatter(x=xs, y=ys, mode="lines",
                             line=dict(color=BLUE, width=1.5),
                             showlegend=False), row=r, col=c)
    lo, hi = min(ys), max(ys)
    pad = (hi - lo) * 0.05
    x0, x1 = COLS_PX[c - 1]
    t, b = ROWS_PX[r - 1]
    common = dict(showgrid=True, gridcolor="#b0b0b0", gridwidth=0.8,
                  showline=True, linecolor="#333333", linewidth=1, mirror=True,
                  ticks="outside", ticklen=4, tickcolor="#333333",
                  zeroline=False, tickfont=dict(family=FONT, size=10, color="#222222"))
    fig.update_xaxes(range=[-25.25, 530.25], dtick=100, tick0=0,
                     domain=[x0 / W, x1 / W], row=r, col=c, **common)
    fig.update_yaxes(range=[lo - pad, hi + pad], dtick=dt, tick0=0,
                     tickformat=fmt if fmt != "d" else None,
                     domain=[1 - b / H, 1 - t / H], row=r, col=c, **common)

fig.update_layout(
    width=W, height=H,
    margin=dict(l=0, r=0, t=0, b=0),
    paper_bgcolor="white",
    plot_bgcolor="white",
    font=dict(family=FONT, size=10, color="#222222"),
)

# la page a une marge par défaut : on la supprime
fig.write_html("out.html", config={"displayModeBar": False},
               post_script="document.body.style.margin='0';")
